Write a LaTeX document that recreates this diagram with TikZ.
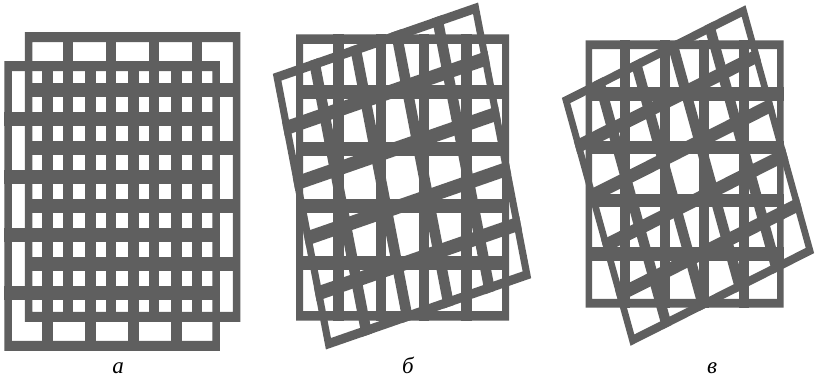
\documentclass[tikz,border=0pt]{standalone}
\usepackage{fontspec}
\setmainfont{Liberation Serif}
\definecolor{grillecol}{RGB}{95,95,95}
\newcommand\grillebars[3]{% #1 size, #2 outer bar, #3 inner bar
  \pgfmathsetmacro\gh{#1/2}%
  \pgfmathsetmacro\gp{#1/5}%
  \fill[grillecol] (-\gh,-\gh) rectangle ({-\gh+#2},\gh)
                   ({\gh-#2},-\gh) rectangle (\gh,\gh)
                   (-\gh,-\gh) rectangle (\gh,{-\gh+#2})
                   (-\gh,{\gh-#2}) rectangle (\gh,\gh);
  \foreach \k in {1,...,4}{
    \fill[grillecol] ({-\gh+\k*\gp-#3/2},-\gh) rectangle ({-\gh+\k*\gp+#3/2},\gh);
    \fill[grillecol] (-\gh,{-\gh+\k*\gp-#3/2}) rectangle (\gh,{-\gh+\k*\gp+#3/2});
  }%
}
\tikzset{lbl/.style={font=\fontsize{23}{25}\selectfont\itshape, anchor=base, inner sep=0pt}}
\begin{document}
\begin{tikzpicture}[x=1pt,y=-1pt]
\useasboundingbox[fill=white] (0,0) rectangle (816,380);
% panel a
\begin{scope}[shift={(132.5,177)}, yscale=1.345]
  \grillebars{215.5}{7.5}{10.5}
\end{scope}
\begin{scope}[shift={(112,206)}, yscale=1.345]
  \grillebars{215.5}{7.5}{10.5}
\end{scope}
% panel b
\begin{scope}[shift={(402.5,177.5)}, yscale=1.343]
  \grillebars{213}{7}{10.5}
\end{scope}
\begin{scope}[shift={(402,176)}, yscale=1.343, rotate=14.5]
  \grillebars{212}{7}{10.5}
\end{scope}
% panel c
\begin{scope}[shift={(684.5,174)}, yscale=1.35]
  \grillebars{198}{6.5}{10}
\end{scope}
\begin{scope}[shift={(688,175.5)}, yscale=1.35, rotate=20.5]
  \grillebars{196}{6.5}{10}
\end{scope}
\node[lbl] (la) at (118,373) {а};
\node[lbl] (lb) at (408,373) {б};
\node[lbl] (lc) at (712,373) {в};
\end{tikzpicture}
\end{document}
